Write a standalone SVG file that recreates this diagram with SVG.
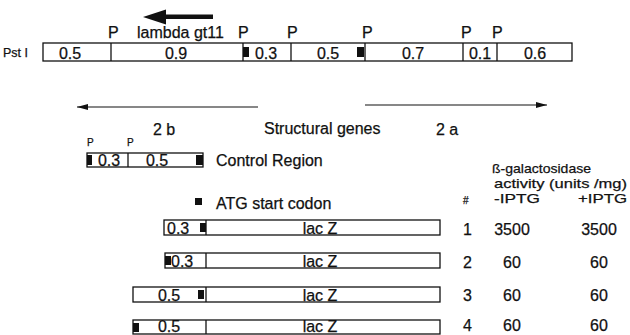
<svg xmlns="http://www.w3.org/2000/svg" width="630" height="335" viewBox="0 0 630 335">
  <defs>
    <style>
      text { font-family: "Liberation Sans", Arial, sans-serif; fill: #111; stroke: #111; stroke-width: 0.25; }
      .t { font-size: 16px; }
      .h { font-size: 13.5px; }
      .c { text-anchor: middle; }
      .sm { font-size: 10px; }
      .box { fill: #fff; stroke: #111; stroke-width: 1.3; }
      .div { stroke: #111; stroke-width: 1.3; }
      .sq { fill: #111; }
      .ln { stroke: #111; stroke-width: 1.2; fill: none; }
    </style>
    <marker id="head" markerWidth="12" markerHeight="8" refX="11" refY="4" orient="auto" markerUnits="userSpaceOnUse">
      <path d="M0,1 L11,4 L0,7 z" fill="#111"/>
    </marker>
  </defs>

  <rect width="630" height="335" fill="#fff"/>

  <!-- Pst I restriction map -->
  <g id="pst-map">
    <text x="3" y="57" style="font-size:12.5px">Pst I</text>
    <rect class="box" x="43" y="43" width="529" height="18"/>
    <line class="div" x1="111" y1="43" x2="111" y2="61"/>
    <line class="div" x1="243" y1="43" x2="243" y2="61"/>
    <line class="div" x1="291" y1="43" x2="291" y2="61"/>
    <line class="div" x1="365" y1="43" x2="365" y2="61"/>
    <line class="div" x1="463" y1="43" x2="463" y2="61"/>
    <line class="div" x1="497" y1="43" x2="497" y2="61"/>
    <rect class="sq" x="243" y="47" width="6" height="10"/>
    <rect class="sq" x="357" y="47" width="7" height="10"/>
    <text class="t c" x="70" y="59">0.5</text>
    <text class="t c" x="176" y="59">0.9</text>
    <text class="t c" x="266" y="59">0.3</text>
    <text class="t c" x="328" y="59">0.5</text>
    <text class="t c" x="413" y="59">0.7</text>
    <text class="t c" x="480" y="59">0.1</text>
    <text class="t c" x="535" y="59">0.6</text>
    <text class="t" x="108" y="38">P</text>
    <text class="t" x="238" y="38">P</text>
    <text class="t" x="287" y="38">P</text>
    <text class="t" x="362" y="38">P</text>
    <text class="t" x="461" y="38">P</text>
    <text class="t" x="492" y="38">P</text>
    <text class="t" x="137" y="38">lambda gt11</text>
  </g>

  <!-- lambda gt11 orientation arrow -->
  <g id="gt11-arrow">
    <rect x="160" y="14.5" width="53" height="4.5" fill="#111"/>
    <path d="M143,17 L166,9.5 L166,24.5 z" fill="#111"/>
  </g>

  <!-- Structural gene arrows -->
  <g id="connectors">
    <line class="ln" x1="258" y1="107" x2="77" y2="107" marker-end="url(#head)"/>
    <line class="ln" x1="365" y1="105" x2="547" y2="105" marker-end="url(#head)"/>
  </g>

  <g id="labels">
    <text class="t" x="153" y="135">2 b</text>
    <text class="t" x="264" y="134">Structural genes</text>
    <text class="t" x="436" y="135">2 a</text>
  </g>

  <!-- Control region -->
  <g id="control-region">
    <text class="sm" x="87" y="146">P</text>
    <text class="sm" x="127" y="146">P</text>
    <rect class="box" x="87" y="153" width="116" height="14"/>
    <line class="div" x1="128" y1="153" x2="128" y2="167"/>
    <rect class="sq" x="87" y="155" width="5" height="10"/>
    <rect class="sq" x="196" y="155" width="7" height="10"/>
    <text class="t c" x="109" y="166">0.3</text>
    <text class="t c" x="157" y="166">0.5</text>
    <text class="t" x="216" y="166">Control Region</text>
  </g>

  <!-- Legend -->
  <g id="legend">
    <rect class="sq" x="195" y="198" width="7" height="7"/>
    <text class="t" x="216" y="209">ATG start codon</text>
  </g>

  <!-- Activity table header -->
  <g id="table-header">
    <text class="h" x="492" y="173" textLength="99" lengthAdjust="spacingAndGlyphs">ß-galactosidase</text>
    <text class="h" x="494" y="188" textLength="133" lengthAdjust="spacingAndGlyphs">activity (units /mg)</text>
    <text class="h" x="494" y="203" textLength="46" lengthAdjust="spacingAndGlyphs">-IPTG</text>
    <text class="h" x="578" y="203" textLength="49" lengthAdjust="spacingAndGlyphs">+IPTG</text>
    <text class="sm" x="463" y="204">#</text>
  </g>

  <!-- Construct 1 -->
  <g id="construct-1">
    <rect class="box" x="164" y="220" width="276" height="15"/>
    <line class="div" x1="206" y1="220" x2="206" y2="235"/>
    <rect class="sq" x="200" y="223" width="6" height="9"/>
    <text class="t" x="167" y="234">0.3</text>
    <text class="t c" x="320" y="234">lac Z</text>
    <text class="t" x="463" y="235">1</text>
    <text class="t c" x="512" y="235">3500</text>
    <text class="t c" x="599" y="235">3500</text>
  </g>

  <!-- Construct 2 -->
  <g id="construct-2">
    <rect class="box" x="165" y="253" width="275" height="15"/>
    <line class="div" x1="206" y1="253" x2="206" y2="268"/>
    <rect class="sq" x="165" y="256" width="6" height="9"/>
    <text class="t" x="171" y="267">0.3</text>
    <text class="t c" x="320" y="267">lac Z</text>
    <text class="t" x="463" y="268">2</text>
    <text class="t c" x="512" y="268">60</text>
    <text class="t c" x="599" y="268">60</text>
  </g>

  <!-- Construct 3 -->
  <g id="construct-3">
    <rect class="box" x="133" y="287" width="307" height="15"/>
    <line class="div" x1="206" y1="287" x2="206" y2="302"/>
    <rect class="sq" x="198" y="290" width="6" height="9"/>
    <text class="t c" x="169" y="301">0.5</text>
    <text class="t c" x="320" y="301">lac Z</text>
    <text class="t" x="463" y="301">3</text>
    <text class="t c" x="512" y="301">60</text>
    <text class="t c" x="599" y="301">60</text>
  </g>

  <!-- Construct 4 -->
  <g id="construct-4">
    <rect class="box" x="133" y="320" width="307" height="14"/>
    <line class="div" x1="206" y1="320" x2="206" y2="334"/>
    <rect class="sq" x="133" y="323" width="6" height="9"/>
    <text class="t c" x="169" y="332">0.5</text>
    <text class="t c" x="320" y="332">lac Z</text>
    <text class="t" x="463" y="331">4</text>
    <text class="t c" x="512" y="331">60</text>
    <text class="t c" x="599" y="331">60</text>
  </g>
</svg>
